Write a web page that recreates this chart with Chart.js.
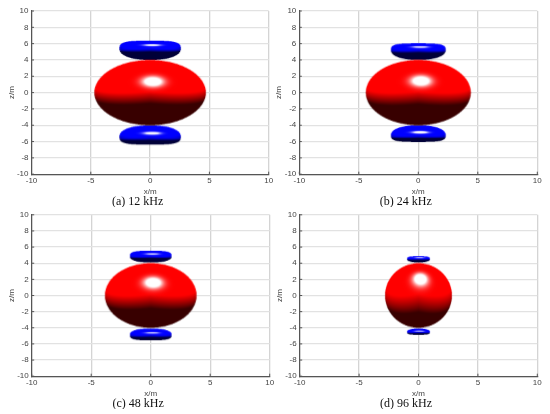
<!DOCTYPE html>
<html lang="en">
<head>
<meta charset="UTF-8">
<title>Beam pattern lobes</title>
<style>
* { margin: 0; padding: 0; box-sizing: border-box; }
html, body { width: 550px; height: 414px; background: #fff; overflow: hidden; }
.panel { position: absolute; }
.panel canvas { filter: blur(0.35px); }
</style>
</head>
<body>
<div class="panel" id="p0"><canvas id="c0"></canvas></div>
<div class="panel" id="p1"><canvas id="c1"></canvas></div>
<div class="panel" id="p2"><canvas id="c2"></canvas></div>
<div class="panel" id="p3"><canvas id="c3"></canvas></div>
<script src="https://cdn.jsdelivr.net/npm/chart.js@4"></script>
<script>
// values, one entry per panel
var captions = ['(a) 12 kHz', '(b) 24 kHz', '(c) 48 kHz', '(d) 96 kHz'];
var xTicks = [-10, -5, 0, 5, 10];
var zTicks = [-10, -8, -6, -4, -2, 0, 2, 4, 6, 8, 10];

var mainHalfWidth = [4.7, 4.4, 3.85, 2.8];
var mainHalfHeight = [4.0, 4.0, 4.0, 4.0];

var sideHalfWidth = [2.58, 2.28, 1.75, 0.95];
var sideWidestZ = [5.35, 5.2, 4.8, 4.5];
var sideOuterZ = [6.37, 6.04, 5.55, 4.86];
var sideInnerZ = [4.0, 4.0, 4.08, 4.08];

// page layout, in pixels
var plotLeft = [31.5, 299.3, 31.7, 299.7];
var plotRight = [268.7, 537.3, 269.7, 537.3];
var captionCenter = [137, 406, 141, 402];
var panelTop = [0, 0, 207, 207];
var panelHeight = [207, 207, 202, 202];
var plotTopPad = [11, 11, 6, 6];
var halfWidth = 142;
var yAxisWidth = 25;
var xAxisHeight = 22;

// draws one shaded body of revolution about the z axis, lit MATLAB style
function shadedLobe(a, bUp, bDown, pUp, pDown, unitX, unitZ, rgb) {
    var ss = 3;
    var w = Math.ceil(2 * a * unitX) + 2;
    // canvas is centred on the point, so keep it symmetric about the widest line
    var h = 2 * (Math.ceil(Math.max(bUp, bDown) * unitZ) + 1);
    var big = document.createElement('canvas');
    big.width = w * ss;
    big.height = h * ss;
    var bctx = big.getContext('2d');
    var img = bctx.createImageData(big.width, big.height);
    var H = [0.05, 0.39, 0.92];
    // widens the glint on narrow bodies
    var glossX = Math.sqrt(a / 4.7);
    for (var j = 0; j < big.height; j++) {
        for (var i = 0; i < big.width; i++) {
            var x = (i + 0.5 - big.width / 2) / ss / unitX;
            var z = (big.height / 2 - j - 0.5) / ss / unitZ;
            var b = z >= 0 ? bUp : bDown;
            var p = z >= 0 ? pUp : pDown;
            var t = Math.pow(Math.abs(z) / b, p);
            if (t >= 1) continue;
            var r = a * Math.pow(1 - t, 1 / p);
            if (Math.abs(x) >= r) continue;
            var y = Math.sqrt(r * r - x * x);
            var gr = Math.pow(r / a, p - 1) / a;
            var gz = Math.pow(Math.abs(z) / b, p - 1) / b * (z >= 0 ? 1 : -1);
            var nx = gr * x / r, ny = gr * y / r, nz = gz;
            var len = Math.sqrt(nx * nx + ny * ny + nz * nz) || 1;
            nx /= len; ny /= len; nz /= len;
            var val = 0.9 * nz + 0.3 * (ny + 0.6 * Math.abs(nx)) + 0.07;
            var lit = Math.min(1, 0.22 + 1.9 * Math.max(0, val));
            var sx = nx * glossX - H[0], sz = nz - H[1], sy = ny - H[2];
            var spec = 1.8 * Math.exp(-30 * (sx * sx + sz * sz + sy * sy));
            var k = (j * big.width + i) * 4;
            img.data[k] = Math.min(255, rgb[0] * lit + 255 * spec);
            img.data[k + 1] = Math.min(255, rgb[1] * lit + 255 * spec);
            img.data[k + 2] = Math.min(255, rgb[2] * lit + 255 * spec);
            img.data[k + 3] = 255;
        }
    }
    bctx.putImageData(img, 0, 0);
    var out = document.createElement('canvas');
    out.width = w;
    out.height = h;
    var octx = out.getContext('2d');
    octx.imageSmoothingQuality = 'high';
    octx.drawImage(big, 0, 0, w, h);
    return out;
}

function lobeStyle(n, part) {
    var cache = {};
    return function (ctx) {
        var sx = ctx.chart.scales.x, sy = ctx.chart.scales.y;
        // options get resolved once before the first layout
        if (!sx || !sx.width || !sy.height) return 'circle';
        var unitX = sx.width / 20, unitZ = sy.height / 20;
        var key = unitX + '/' + unitZ;
        if (cache[key]) return cache[key];
        var up = sideOuterZ[n] - sideWidestZ[n], down = sideWidestZ[n] - sideInnerZ[n];
        var c;
        if (part === 'main') {
            c = shadedLobe(mainHalfWidth[n], mainHalfHeight[n], mainHalfHeight[n], 2, 2, unitX, unitZ, [255, 0, 0]);
        } else if (part === 'top') {
            c = shadedLobe(sideHalfWidth[n], up, down, 3.5, 2.2, unitX, unitZ, [0, 0, 255]);
        } else {
            c = shadedLobe(sideHalfWidth[n], down, up, 2.2, 3.5, unitX, unitZ, [0, 0, 255]);
        }
        cache[key] = c;
        return c;
    };
}

// MATLAB style short ticks pointing into the plot
var inwardTicks = {
    id: 'inwardTicks',
    afterDraw: function (chart) {
        var c = chart.ctx, a = chart.chartArea;
        c.save();
        c.strokeStyle = '#555';
        c.lineWidth = 1;
        c.beginPath();
        zTicks.forEach(function (v) {
            var py = chart.scales.y.getPixelForValue(v);
            c.moveTo(a.left, py);
            c.lineTo(a.left + 2.5, py);
        });
        xTicks.forEach(function (v) {
            var px = chart.scales.x.getPixelForValue(v);
            c.moveTo(px, a.bottom);
            c.lineTo(px, a.bottom - 2.5);
        });
        c.stroke();
        c.restore();
    }
};

function makeChart(n) {
    var box = document.getElementById('p' + n);
    var left = captionCenter[n] - halfWidth;
    box.style.left = left + 'px';
    box.style.top = panelTop[n] + 'px';
    box.style.width = (2 * halfWidth) + 'px';
    box.style.height = panelHeight[n] + 'px';
    new Chart(document.getElementById('c' + n), {
        type: 'scatter',
        data: {
            datasets: [
                { data: [{ x: 0, y: 0 }], pointStyle: lobeStyle(n, 'main') },
                { data: [{ x: 0, y: sideWidestZ[n] }], pointStyle: lobeStyle(n, 'top') },
                { data: [{ x: 0, y: -sideWidestZ[n] }], pointStyle: lobeStyle(n, 'bottom') }
            ]
        },
        plugins: [inwardTicks],
        options: {
            responsive: true,
            maintainAspectRatio: false,
            animation: false,
            events: [],
            layout: {
                padding: {
                    left: plotLeft[n] - left - yAxisWidth,
                    right: left + 2 * halfWidth - plotRight[n],
                    top: plotTopPad[n],
                    bottom: 0
                }
            },
            plugins: {
                legend: { display: false },
                tooltip: { enabled: false },
                title: {
                    display: true,
                    text: captions[n],
                    position: 'bottom',
                    color: '#111',
                    padding: 0,
                    font: { family: '"Liberation Serif"', size: 12, weight: 'normal', lineHeight: 0.9 }
                }
            },
            scales: {
                x: {
                    type: 'linear',
                    min: -10,
                    max: 10,
                    afterBuildTicks: function (axis) { axis.ticks = xTicks.map(function (v) { return { value: v }; }); },
                    afterFit: function (axis) { axis.height = xAxisHeight; },
                    border: { color: '#555', width: 1.2 },
                    grid: { color: '#d4d4d4', lineWidth: 1.3, drawTicks: false },
                    ticks: { color: '#444', padding: 2, maxRotation: 0, font: { family: '"Liberation Sans"', size: 8 } },
                    title: { display: true, text: 'x/m', color: '#444', padding: 0, font: { family: '"Liberation Sans"', size: 8 } }
                },
                y: {
                    type: 'linear',
                    min: -10,
                    max: 10,
                    afterBuildTicks: function (axis) { axis.ticks = zTicks.map(function (v) { return { value: v }; }); },
                    afterFit: function (axis) { axis.width = yAxisWidth; },
                    border: { color: '#555', width: 1.2 },
                    grid: { color: '#e2e2e2', lineWidth: 1.3, drawTicks: false },
                    ticks: { color: '#444', padding: 3, font: { family: '"Liberation Sans"', size: 8 } },
                    title: { display: true, text: 'z/m', color: '#444', padding: 0, font: { family: '"Liberation Sans"', size: 8 } }
                }
            }
        }
    });
}

for (var n = 0; n < 4; n++) makeChart(n);
</script>
</body>
</html>
